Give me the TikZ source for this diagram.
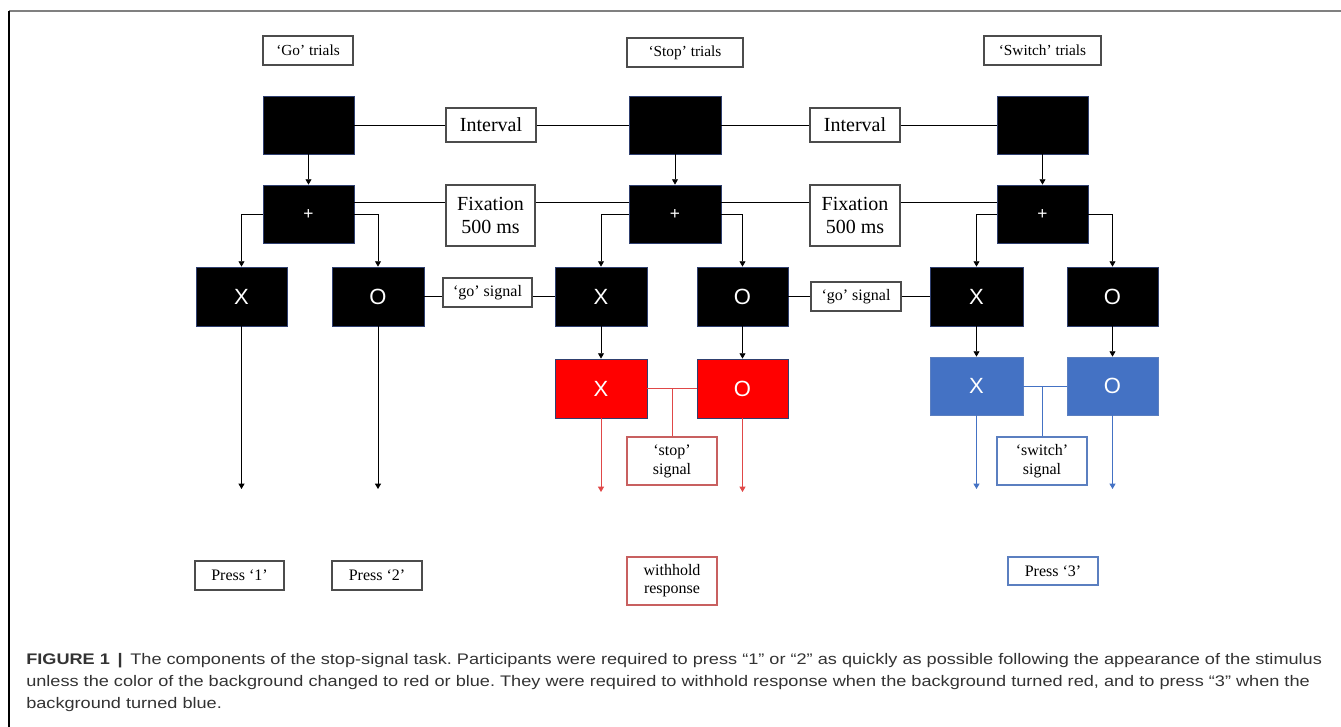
\documentclass[tikz,border=0pt]{standalone}
\usepackage{fontspec}
\setmainfont{Liberation Serif}
\newfontfamily\capfont{Liberation Sans}
\newfontfamily\captionfont[FakeStretch=1.183]{Liberation Sans}
\usetikzlibrary{arrows.meta}
\definecolor{rd}{HTML}{FF0000}
\definecolor{bl}{HTML}{4472C4}
\definecolor{edgeblue}{HTML}{2F3F6F}
\definecolor{rdline}{HTML}{E04848}
\definecolor{rdbox}{HTML}{C86060}
\definecolor{blbox}{HTML}{5B7FC0}
\definecolor{capgray}{HTML}{333333}
\newcommand\B[7]{\node[#1, minimum width={(#5-#3)*0.75pt}, minimum height={(#6-#4)*0.75pt}] (#2) at ({(#3+#5)/2},{(#4+#6)/2}) {#7};}
\begin{document}
\begin{tikzpicture}[x=0.75pt,y=-0.75pt,
  blk/.style={fill=black, draw=edgeblue, line width=0.6pt, text=white, inner sep=0pt, font=\capfont\fontsize{16.5}{16.5}\selectfont},
  redb/.style={blk, fill=rd},
  blueb/.style={blk, fill=bl, draw=blbox},
  lbl/.style={draw=black!70, line width=0.8pt, fill=white, inner sep=0pt, align=center, font=\fontsize{12}{14}\selectfont},
  big/.style={lbl, font=\fontsize{15}{17.3}\selectfont},
  rlbl/.style={lbl, draw=rdbox},
  blbl/.style={lbl, draw=blbox},
  conn/.style={line width=0.6pt},
  arr/.style={conn, -{Triangle[width=4.5pt,length=4pt]}}
]
\useasboundingbox (0,0) rectangle (1341,727);
\draw[line width=1.5pt, gray] (9,11) -- (1341,11);
\draw[line width=1.1pt, black] (9,11) -- (9,727);

% titles
\B{lbl,font=\fontsize{11.5}{13}\selectfont}{tg}{263}{36}{353}{65}{‘Go’ trials}
\B{lbl,font=\fontsize{11.5}{13}\selectfont}{ts}{627}{38}{743}{67}{‘Stop’ trials}
\B{lbl,font=\fontsize{11.5}{13}\selectfont}{tw}{984}{36}{1101}{65}{‘Switch’ trials}

% row 1
\B{blk}{g1}{263}{96}{354}{154}{}
\B{blk}{s1}{629}{96}{721}{154}{}
\B{blk}{w1}{997}{96}{1088}{154}{}
\B{big}{int1}{446}{108}{536}{142}{Interval}
\B{big}{int2}{810}{108}{900}{142}{Interval}

% row 2
\B{blk,font=\capfont\fontsize{13}{13}\selectfont}{g2}{263}{185}{354}{243}{+}
\B{blk,font=\capfont\fontsize{13}{13}\selectfont}{s2}{629}{185}{721}{243}{+}
\B{blk,font=\capfont\fontsize{13}{13}\selectfont}{w2}{997}{185}{1088}{243}{+}
\B{big}{fx1}{446}{185}{535}{246}{Fixation\\500 ms}
\B{big}{fx2}{810}{185}{900}{246}{Fixation\\500 ms}

% row 3
\B{blk}{gx}{196}{267}{287}{326}{X}
\B{blk}{go}{332}{267}{424}{326}{O}
\B{blk}{sx}{555}{267}{647}{326}{X}
\B{blk}{so}{697}{267}{788}{326}{O}
\B{blk}{wx}{930}{267}{1023}{326}{X}
\B{blk}{wo}{1067}{267}{1158}{326}{O}
\B{lbl}{gs1}{443}{278}{532}{307}{‘go’ signal}
\B{lbl}{gs2}{811}{282}{901}{311}{‘go’ signal}

% row 4
\B{redb}{rx}{555}{359}{647}{418}{X}
\B{redb}{ro}{697}{359}{788}{418}{O}
\B{blueb}{bx}{930}{357}{1023}{415}{X}
\B{blueb}{bo}{1067}{357}{1158}{415}{O}
\B{rlbl,font=\fontsize{12}{14.3}\selectfont}{ss}{627}{437}{717}{485}{‘stop’\\signal}
\B{blbl,font=\fontsize{12}{14.3}\selectfont}{ws}{997}{437}{1087}{485}{‘switch’\\signal}

% bottom
\B{lbl}{p1}{195}{561}{284}{590}{Press ‘1’}
\B{lbl}{p2}{332}{561}{422}{590}{Press ‘2’}
\B{rlbl,font=\fontsize{12}{13.5}\selectfont}{wr}{627}{557}{717}{605}{withhold\\response}
\B{blbl}{p3}{1008}{557}{1098}{585}{Press ‘3’}

\coordinate (endk) at (0,489);
\coordinate (endr) at (0,492);
\coordinate (endb) at (0,489);

% interval row
\draw[conn] (g1.east) -- (int1.west);
\draw[conn] (int1.east) -- (s1.west);
\draw[conn] (s1.east) -- (int2.west);
\draw[conn] (int2.east) -- (w1.west);

% fixation row
\draw[conn] ([yshift=9pt]g2.east) coordinate (fa) -- (fa -| fx1.west);
\draw[conn] (fx1.east |- fa) -- (fa -| s2.west);
\draw[conn] ([yshift=9pt]s2.east) coordinate (fb) -- (fb -| fx2.west);
\draw[conn] (fx2.east |- fb) -- (fb -| w2.west);

% vertical arrows
\foreach \a/\b in {g1/g2, s1/s2, w1/w2, sx/rx, so/ro, wx/bx, wo/bo}
  \draw[arr] (\a.south) -- (\b.north);

% branches
\draw[arr] (g2.west) -| (gx.north);
\draw[arr] (g2.east) -| (go.north);
\draw[arr] (s2.west) -| (sx.north);
\draw[arr] (s2.east) -| (so.north);
\draw[arr] (w2.west) -| (wx.north);
\draw[arr] (w2.east) -| (wo.north);

% go signal row
\draw[conn] (go.east) -- (go.east -| gs1.west);
\draw[conn] (gs1.east |- go.east) -- (sx.west);
\draw[conn] (so.east) -- (so.east -| gs2.west);
\draw[conn] (gs2.east |- so.east) -- (wx.west);

% response arrows
\draw[arr] (gx.south) -- (gx.south |- endk);
\draw[arr] (go.south) -- (go.south |- endk);
\draw[arr, rdline] (rx.south) -- (rx.south |- endr);
\draw[arr, rdline] (ro.south) -- (ro.south |- endr);
\draw[arr, bl] (bx.south) -- (bx.south |- endb);
\draw[arr, bl] (bo.south) -- (bo.south |- endb);

% stop / switch signals
\draw[conn, rdline] (rx.east) -- (ro.west);
\draw[conn, rdline] (ss.north) -- (ss.north |- rx.east);
\draw[conn, bl] (bx.east) -- (bo.west);
\draw[conn, bl] (ws.north) -- (ws.north |- bx.east);

% caption
\begin{scope}[every node/.style={anchor=base west, inner sep=0pt, text=capgray, font=\frenchspacing\captionfont\fontsize{11.5}{14}\selectfont}]
\node (cap1) at (26,664) {\textbf{FIGURE 1}\enspace\textbf{|}\enspace The components of the stop-signal task. Participants were required to press “1” or “2” as quickly as possible following the appearance of the stimulus};
\node (cap2) at (26,686) {unless the color of the background changed to red or blue. They were required to withhold response when the background turned red, and to press “3” when the};
\node (cap3) at (26,708) {background turned blue.};
\end{scope}
\end{tikzpicture}
\end{document}
